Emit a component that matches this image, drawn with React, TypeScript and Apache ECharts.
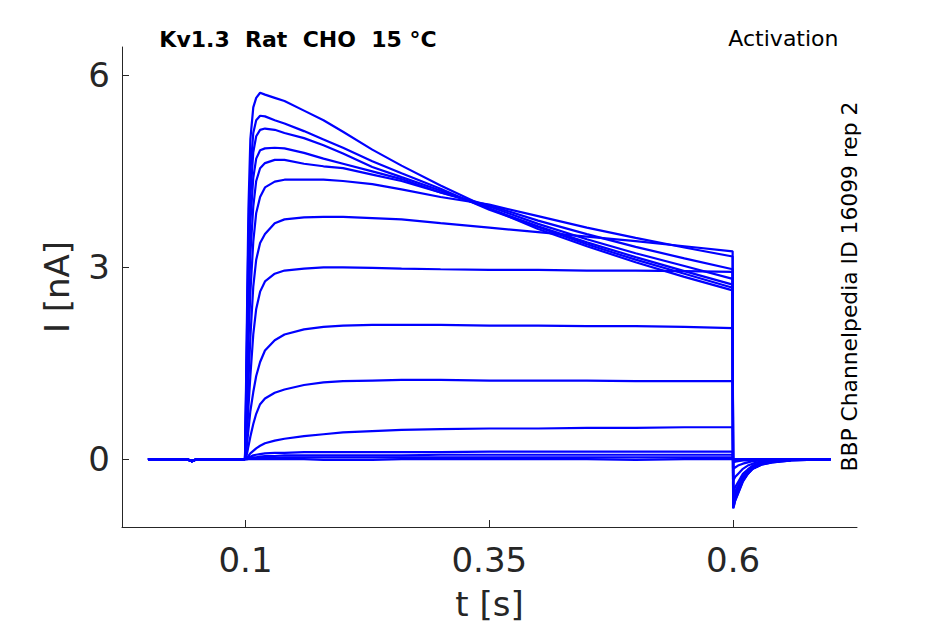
import { useEffect, useRef } from "react";
import * as echarts from "echarts";

// time points (s)
const TIME_HOLD = [0, 0.04, 0.045, 0.05, 0.0995, 0.1];
const TIME_STEP = [
  0.101, 0.102, 0.103, 0.105, 0.108, 0.111, 0.115, 0.12, 0.13, 0.14, 0.16,
  0.18, 0.2, 0.23, 0.26, 0.3, 0.35, 0.4, 0.45, 0.5, 0.55, 0.5995,
];
const TIME_TAIL = [0.6, 0.6005, 0.602, 0.605, 0.61, 0.615, 0.62, 0.63, 0.64, 0.66, 0.7];

// holding current before the step (nA)
const HOLD_CURRENT = [0, 0, -0.03, 0, 0, 0];

// current during the voltage step (nA), one row per sweep
const STEP_CURRENTS = [
  [1.6, 2.8, 3.9, 5.0, 5.5, 5.65, 5.73, 5.7, 5.65, 5.6, 5.45, 5.3, 5.12, 4.84, 4.59, 4.28, 3.92, 3.6, 3.33, 3.08, 2.85, 2.64],
  [1.4, 2.5, 3.5, 4.5, 5.1, 5.3, 5.37, 5.36, 5.3, 5.25, 5.13, 5.0, 4.87, 4.66, 4.47, 4.23, 3.9, 3.63, 3.36, 3.12, 2.9, 2.68],
  [1.2, 2.2, 3.1, 4.1, 4.8, 5.05, 5.15, 5.17, 5.15, 5.1, 5.02, 4.91, 4.78, 4.57, 4.41, 4.2, 3.92, 3.64, 3.39, 3.16, 2.94, 2.73],
  [1.0, 1.9, 2.7, 3.7, 4.4, 4.7, 4.83, 4.86, 4.87, 4.86, 4.79, 4.7, 4.62, 4.5, 4.38, 4.17, 3.95, 3.68, 3.44, 3.22, 3.02, 2.82],
  [0.8, 1.6, 2.3, 3.2, 3.95, 4.35, 4.55, 4.63, 4.68, 4.68, 4.62, 4.58, 4.55, 4.45, 4.35, 4.17, 3.97, 3.73, 3.52, 3.32, 3.14, 2.97],
  [0.6, 1.2, 1.8, 2.6, 3.4, 3.85, 4.1, 4.25, 4.34, 4.37, 4.37, 4.37, 4.35, 4.3, 4.22, 4.1, 3.98, 3.8, 3.62, 3.46, 3.31, 3.17],
  [0.4, 0.8, 1.2, 1.9, 2.7, 3.12, 3.38, 3.52, 3.69, 3.75, 3.78, 3.79, 3.79, 3.77, 3.75, 3.69, 3.62, 3.55, 3.48, 3.41, 3.33, 3.25],
  [0.25, 0.5, 0.8, 1.3, 1.95, 2.35, 2.62, 2.78, 2.9, 2.95, 2.98, 3.0, 3.0, 2.99, 2.98, 2.97, 2.96, 2.96, 2.95, 2.95, 2.94, 2.93],
  [0.15, 0.3, 0.45, 0.75, 1.05, 1.3, 1.52, 1.7, 1.86, 1.95, 2.03, 2.07, 2.09, 2.1, 2.1, 2.1, 2.09, 2.09, 2.08, 2.08, 2.07, 2.05],
  [0.05, 0.12, 0.2, 0.35, 0.55, 0.71, 0.86, 0.95, 1.04, 1.09, 1.16, 1.2, 1.22, 1.23, 1.24, 1.24, 1.23, 1.23, 1.23, 1.22, 1.22, 1.22],
  [0.01, 0.02, 0.05, 0.09, 0.13, 0.17, 0.21, 0.25, 0.29, 0.32, 0.36, 0.39, 0.42, 0.44, 0.46, 0.47, 0.48, 0.48, 0.49, 0.49, 0.5, 0.5],
  [0.01, 0.02, 0.03, 0.04, 0.06, 0.07, 0.08, 0.09, 0.1, 0.1, 0.11, 0.11, 0.11, 0.11, 0.11, 0.11, 0.12, 0.12, 0.12, 0.12, 0.12, 0.12],
  [0, 0.01, 0.01, 0.02, 0.03, 0.03, 0.04, 0.05, 0.05, 0.06, 0.06, 0.06, 0.06, 0.06, 0.06, 0.07, 0.07, 0.07, 0.07, 0.07, 0.07, 0.07],
  [0, 0, 0.01, 0.01, 0.01, 0.02, 0.02, 0.02, 0.02, 0.03, 0.03, 0.03, 0.03, 0.03, 0.03, 0.03, 0.03, 0.03, 0.03, 0.03, 0.03, 0.03],
  [0, 0, 0, 0, 0, 0, 0, 0, 0, 0, 0, -0.01, -0.01, -0.01, 0, 0, 0, 0, 0, -0.01, 0, 0],
];

// tail current after the step (nA)
const TAIL_CURRENTS = [
  [-0.6, -0.58, -0.51, -0.42, -0.27, -0.18, -0.12, -0.06, -0.04, -0.01, 0],
  [-0.63, -0.61, -0.54, -0.44, -0.28, -0.19, -0.13, -0.06, -0.04, -0.01, 0],
  [-0.66, -0.64, -0.56, -0.46, -0.3, -0.2, -0.13, -0.07, -0.04, -0.01, 0],
  [-0.7, -0.68, -0.6, -0.49, -0.32, -0.21, -0.14, -0.07, -0.04, -0.01, 0],
  [-0.73, -0.71, -0.62, -0.51, -0.33, -0.22, -0.15, -0.07, -0.04, -0.01, 0],
  [-0.77, -0.75, -0.65, -0.54, -0.35, -0.23, -0.15, -0.08, -0.05, -0.02, 0],
  [-0.76, -0.74, -0.65, -0.53, -0.34, -0.23, -0.15, -0.08, -0.05, -0.02, 0],
  [-0.7, -0.68, -0.6, -0.49, -0.32, -0.21, -0.14, -0.07, -0.04, -0.01, 0],
  [-0.52, -0.5, -0.44, -0.36, -0.23, -0.16, -0.1, -0.05, -0.03, -0.01, 0],
  [-0.33, -0.32, -0.28, -0.23, -0.15, -0.1, -0.07, -0.03, -0.02, -0.01, 0],
  [-0.15, -0.15, -0.13, -0.1, -0.07, -0.05, -0.03, -0.02, -0.01, 0, 0],
  [-0.05, -0.05, -0.04, -0.03, -0.02, -0.02, -0.01, -0.01, 0, 0, 0],
  [-0.03, -0.03, -0.03, -0.02, -0.01, -0.01, -0.01, 0, 0, 0, 0],
  [-0.01, -0.01, -0.01, -0.01, 0, 0, 0, 0, 0, 0, 0],
  [0, 0, 0, 0, 0, 0, 0, 0, 0, 0, 0],
];

const X_TICKS = [0.1, 0.35, 0.6];
const Y_TICKS = [0, 3, 6];
const X_RANGE = [-0.0266, 0.727];
const Y_RANGE = [-1.06, 6.445];

const TITLE = "Kv1.3  Rat  CHO  15 °C";
const PROTOCOL = "Activation";
const SOURCE = "BBP Channelpedia ID 16099 rep 2";

const FONT = "DejaVu Sans";
const INK = "#262626";

export default function App() {
  const ref = useRef<HTMLDivElement>(null);

  useEffect(() => {
    if (!ref.current) return;
    const chart = echarts.init(ref.current, undefined, { renderer: "svg" });
    const times = [...TIME_HOLD, ...TIME_STEP, ...TIME_TAIL];
    const series = STEP_CURRENTS.map((step, i) => {
      const values = [...HOLD_CURRENT, ...step, ...TAIL_CURRENTS[i]];
      return {
        type: "line" as const,
        data: times.map((t, k) => [t, values[k]]),
        showSymbol: false,
        symbol: "none",
        lineStyle: { color: "#0000ff", width: 2.2 },
        itemStyle: { color: "#0000ff" },
        silent: true,
      };
    });

    chart.setOption({
      animation: false,
      backgroundColor: "#ffffff",
      textStyle: { fontFamily: FONT },
      grid: {
        left: 122,
        right: 88,
        top: 47,
        bottom: 97,
        containLabel: false,
        outerBoundsMode: "none",
      },
      xAxis: {
        type: "value",
        min: X_RANGE[0],
        max: X_RANGE[1],
        name: "t [s]",
        nameLocation: "middle",
        nameGap: 60,
        nameTextStyle: { fontFamily: FONT, fontSize: 34, color: INK },
        axisLine: { show: true, onZero: false, lineStyle: { color: INK, width: 1 } },
        axisTick: { show: true, inside: true, length: 7, customValues: X_TICKS, lineStyle: { color: INK, width: 1 } },
        axisLabel: { customValues: X_TICKS, fontFamily: FONT, fontSize: 34, color: INK, margin: 16 },
        splitLine: { show: false },
      },
      yAxis: {
        type: "value",
        min: Y_RANGE[0],
        max: Y_RANGE[1],
        name: "I [nA]",
        nameLocation: "middle",
        nameGap: 48,
        nameRotate: 90,
        nameTextStyle: { fontFamily: FONT, fontSize: 34, color: INK },
        axisLine: { show: true, onZero: false, lineStyle: { color: INK, width: 1 } },
        axisTick: { show: true, inside: true, length: 7, customValues: Y_TICKS, lineStyle: { color: INK, width: 1 } },
        axisLabel: { customValues: Y_TICKS, fontFamily: FONT, fontSize: 34, color: INK, margin: 12 },
        splitLine: { show: false },
      },
      graphic: [
        {
          type: "text",
          x: 298,
          y: 39,
          style: { text: TITLE, fontFamily: FONT, fontSize: 22, fontWeight: "bold", fill: "#000000", align: "center", verticalAlign: "middle" },
        },
        {
          type: "text",
          x: 838.5,
          y: 38,
          style: { text: PROTOCOL, fontFamily: FONT, fontSize: 22, fill: "#000000", align: "right", verticalAlign: "middle" },
        },
        {
          type: "text",
          x: 849.5,
          y: 286.5,
          rotation: Math.PI / 2,
          style: { text: SOURCE, fontFamily: FONT, fontSize: 21.8, fill: "#000000", align: "center", verticalAlign: "middle" },
        },
      ],
      series,
    });
    return () => chart.dispose();
  }, []);

  return <div ref={ref} style={{ position: "fixed", left: 0, top: 0, width: 945, height: 624 }} />;
}
